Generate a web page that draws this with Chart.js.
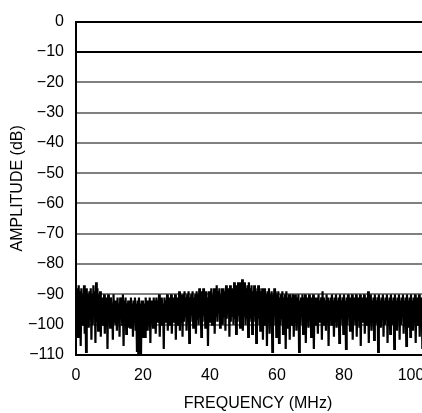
<!DOCTYPE html>
<html>
<head>
<meta charset="utf-8">
<script src="https://cdn.jsdelivr.net/npm/chart.js@4"></script>
<style>
    html, body { margin: 0; padding: 0; background: #fff; overflow: hidden; }
    #wrap { width: 422px; height: 413px; overflow: hidden; }
</style>
</head>
<body>
<div id="wrap"><canvas id="spectrum" width="440" height="413"></canvas></div>
<script>
// Noise floor spectrum, 0.2 MHz per bin
const freqStep = 0.2;
const amplitude = [
    -88, -99, -90, -104, -87, -98, -89, -107, -88, -100, -90, -97, -87, -103, -89, -109, -88, -99, -90, -101,
    -89, -98, -88, -105, -90, -100, -87, -97, -89, -106, -86, -99, -88, -102, -90, -98, -89, -104, -91, -100,
    -91, -97, -90, -103, -92, -99, -91, -108, -90, -98, -92, -101, -91, -96, -93, -105, -90, -99, -92, -100,
    -92, -102, -91, -98, -93, -104, -91, -97, -92, -100, -90, -107, -92, -99, -91, -103, -93, -98, -92, -101,
    -92, -101, -91, -98, -93, -104, -92, -99, -91, -102, -93, -109, -92, -110, -91, -108, -93, -110, -92, -104,
    -92, -100, -93, -104, -91, -98, -92, -102, -93, -97, -91, -106, -92, -99, -93, -101, -91, -98, -92, -103,
    -91, -99, -92, -97, -90, -104, -92, -100, -91, -98, -93, -108, -91, -99, -92, -97, -90, -102, -91, -100,
    -91, -98, -90, -103, -92, -99, -91, -97, -90, -105, -92, -100, -91, -98, -89, -102, -91, -99, -90, -104,
    -90, -99, -89, -97, -91, -102, -90, -98, -89, -106, -91, -99, -90, -97, -89, -101, -91, -98, -90, -103,
    -89, -98, -90, -100, -88, -97, -90, -104, -89, -99, -88, -97, -90, -101, -89, -98, -91, -107, -89, -99,
    -89, -97, -88, -100, -90, -98, -88, -103, -89, -97, -87, -99, -89, -96, -88, -101, -90, -98, -88, -100,
    -88, -97, -89, -102, -87, -98, -89, -96, -88, -104, -87, -99, -89, -97, -88, -100, -86, -98, -88, -103,
    -87, -99, -86, -97, -88, -101, -86, -98, -85, -102, -87, -97, -86, -100, -88, -98, -87, -104, -86, -99,
    -88, -98, -87, -103, -89, -99, -87, -97, -88, -106, -89, -100, -87, -98, -88, -102, -89, -99, -88, -105,
    -89, -100, -88, -98, -90, -107, -89, -99, -88, -103, -90, -98, -89, -109, -90, -100, -88, -97, -89, -104,
    -90, -99, -89, -106, -91, -100, -90, -98, -89, -103, -91, -99, -90, -108, -89, -101, -91, -98, -90, -105,
    -90, -100, -91, -97, -90, -104, -92, -99, -90, -102, -91, -98, -90, -109, -92, -100, -91, -97, -90, -103,
    -91, -99, -90, -106, -92, -98, -91, -101, -90, -97, -92, -104, -91, -99, -90, -108, -92, -100, -91, -98,
    -91, -103, -90, -99, -92, -97, -91, -105, -89, -100, -91, -98, -92, -102, -90, -99, -91, -107, -92, -98,
    -91, -100, -90, -97, -92, -104, -91, -99, -90, -101, -92, -98, -91, -106, -90, -100, -92, -97, -91, -103,
    -90, -99, -92, -108, -91, -100, -90, -97, -92, -102, -91, -99, -90, -105, -92, -98, -91, -100, -90, -104,
    -92, -98, -91, -101, -90, -107, -92, -99, -91, -97, -90, -103, -92, -100, -91, -98, -89, -106, -91, -99,
    -90, -102, -92, -98, -91, -105, -90, -100, -92, -97, -91, -109, -90, -99, -92, -101, -91, -98, -90, -104,
    -92, -100, -91, -97, -90, -106, -92, -99, -91, -103, -90, -98, -92, -100, -91, -108, -90, -99, -92, -102,
    -91, -98, -90, -105, -92, -100, -91, -97, -90, -103, -92, -99, -91, -107, -90, -98, -92, -101, -91, -104,
    -90, -99, -92, -102, -91, -98, -90, -106, -92, -100, -91, -97, -90, -104, -92, -99, -91, -108, -90, -100
];
const xTicks = [0, 20, 40, 60, 80, 100];
const yMin = -110;
const yMax = 0;

const points = amplitude.map((a, i) => ({ x: i * freqStep, y: a }));

const font = { family: "'Liberation Sans Narrow', 'Liberation Sans', Arial, sans-serif", size: 16 };

function minusLabel(v) {
    return v < 0 ? '\u2212' + Math.abs(v) : String(v);
}

const ctx = document.getElementById('spectrum').getContext('2d');
new Chart(ctx, {
    type: 'line',
    data: {
        datasets: [{
            data: points,
            borderColor: '#000',
            borderWidth: 2.2,
            pointRadius: 0,
            tension: 0,
            fill: false
        }]
    },
    options: {
        responsive: false,
        animation: false,
        layout: { padding: { top: 16, right: 0, bottom: 0, left: 0 } },
        plugins: { legend: { display: false }, tooltip: { enabled: false } },
        scales: {
            x: {
                type: 'linear',
                min: 0,
                max: 108.66,
                z: 1,
                afterBuildTicks: function(scale) {
                    scale.ticks = xTicks.map(v => ({ value: v }));
                },
                afterFit: function(scale) { scale.height = 58; },
                grid: { drawOnChartArea: false, drawTicks: false },
                border: { color: '#000', width: 2 },
                ticks: { color: '#000', font: font, padding: 11, maxRotation: 0 },
                title: { display: true, text: 'FREQUENCY (MHz)', color: '#000', font: font, padding: { top: 3, bottom: 0 } }
            },
            y: {
                min: yMin,
                max: yMax,
                z: 1,
                afterFit: function(scale) { scale.width = 76; },
                grid: {
                    drawTicks: false,
                    color: c => (c.tick.value === -10 || c.tick.value === 0) ? '#000' : (c.tick.value === yMin ? 'rgba(0,0,0,0)' : '#808080'),
                    lineWidth: 2
                },
                border: { color: '#000', width: 2 },
                ticks: { stepSize: 10, color: '#000', font: font, padding: 12, callback: minusLabel },
                title: { display: true, text: 'AMPLITUDE (dB)', color: '#000', font: font, padding: { top: 8, bottom: 0 } }
            }
        }
    }
});
</script>
</body>
</html>
